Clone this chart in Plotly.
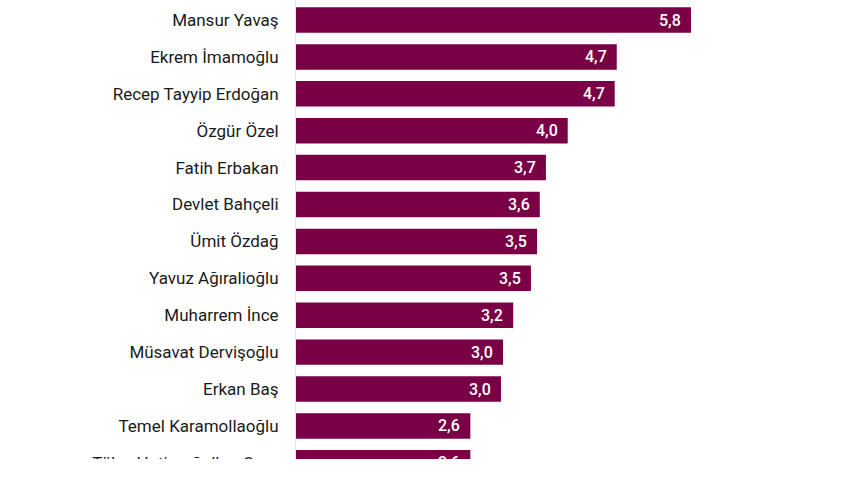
import plotly.graph_objects as go

names = ["Mansur Yavaş", "Ekrem İmamoğlu", "Recep Tayyip Erdoğan", "Özgür Özel",
         "Fatih Erbakan", "Devlet Bahçeli", "Ümit Özdağ", "Yavuz Ağıralioğlu",
         "Muharrem İnce", "Müsavat Dervişoğlu", "Erkan Baş", "Temel Karamollaoğlu",
         "Tülay Hatimoğulları Oruç"]
values = [5.8, 4.71, 4.68, 3.99, 3.67, 3.58, 3.54, 3.45, 3.19, 3.04, 3.01, 2.56, 2.56]
value_labels = ["5,8", "4,7", "4,7", "4,0", "3,7", "3,6", "3,5", "3,5", "3,2",
                "3,0", "3,0", "2,6", "2,6"]

BAR = "#7a0046"

fig = go.Figure(go.Bar(
    x=values, y=names, orientation="h",
    marker=dict(color=BAR, line=dict(width=0)),
    hoverinfo="skip",
))

for v, n, t in zip(values, names, value_labels):
    fig.add_annotation(x=v, y=n, text=t, xanchor="right", yanchor="middle",
                       xshift=-8, showarrow=False,
                       font=dict(family="Roboto", size=16, color="white", weight=500))

# white band at bottom (the reference image is cut off there)
fig.add_shape(type="rect", xref="paper", yref="paper", x0=-1, x1=2, y0=-0.01,
              y1=22 / 481, fillcolor="white", line=dict(width=0), layer="above")

fig.update_layout(
    width=867, height=481,
    margin=dict(l=296, r=0, t=0, b=0),
    paper_bgcolor="white", plot_bgcolor="white",
    bargap=0.31,
    showlegend=False,
    xaxis=dict(range=[0, 571 / 68.1], visible=False, fixedrange=True),
    yaxis=dict(
        categoryorder="array", categoryarray=names,
        range=[12.493, -0.542],
        showline=True, linecolor="#e6e6e6", linewidth=1,
        showgrid=False, zeroline=False,
        ticks="", ticklabelstandoff=13,
        tickfont=dict(family="Roboto", size=17, color="#1a1a1a"),
    ),
)

fig.write_html("out.html")
